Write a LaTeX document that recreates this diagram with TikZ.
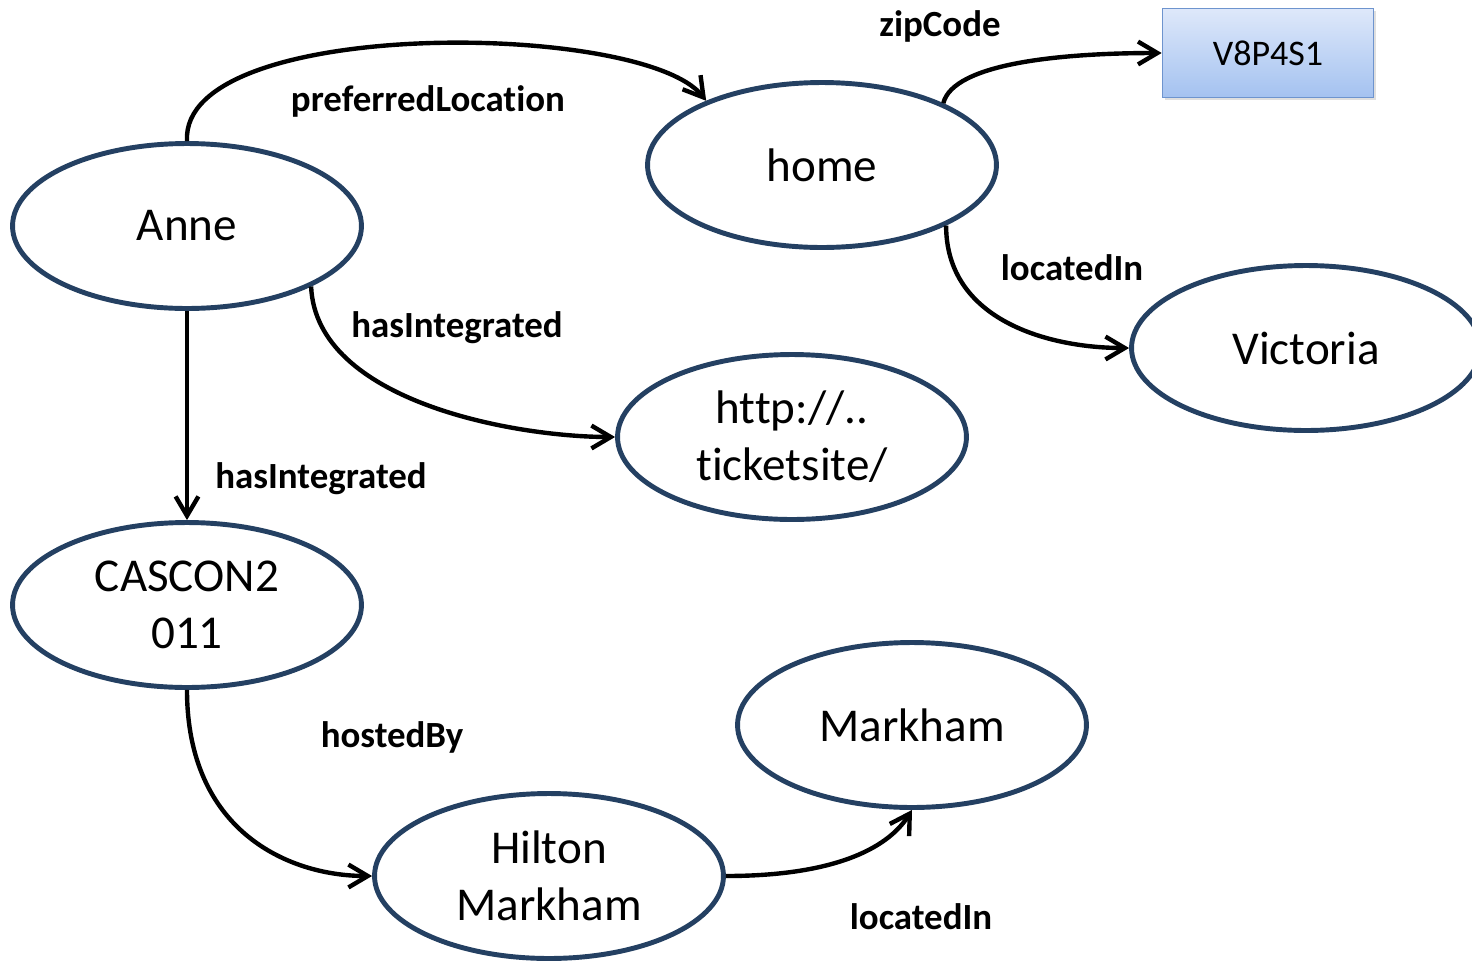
\documentclass[tikz,border=0pt]{standalone}
\usepackage{fontspec}
\setmainfont[Ligatures=NoCommon]{Carlito}
\usetikzlibrary{shapes.geometric,arrows.meta,shadows}
\definecolor{ringblue}{RGB}{36,64,98}
\definecolor{boxedge}{RGB}{110,148,206}
\definecolor{boxtop}{RGB}{222,232,250}
\definecolor{boxbot}{RGB}{164,194,240}
\begin{document}
\begin{tikzpicture}[x=0.02cm,y=-0.02cm,
    thing/.style={ellipse,draw=ringblue,line width=2.8pt,fill=white,
      minimum width=6.98cm,minimum height=3.3cm,inner sep=0pt,align=center,
      font=\fontsize{26.8}{32.3}\selectfont},
    rel/.style={font=\bfseries\fontsize{21}{24}\selectfont},
    link/.style={line width=2.5pt,-{Straight Barb[length=11pt,width=13pt]}}]
    \clip (0,0) rectangle (1472,961);

    % resources
    \node[thing] (anne)     at (187,226) {Anne};
    \node[thing] (home)     at (822,165) {home};
    \node[thing] (victoria) at (1306,348) {Victoria};
    \node[thing] (ticket)   at (792,437) {http://..\\ticketsite/};
    \node[thing] (cascon)   at (187,605) {CASCON2\\011};
    \node[thing] (hilton)   at (549,876) {Hilton\\Markham};
    \node[thing] (markham)  at (912,725) {Markham};
    \node[draw=boxedge,line width=1pt,top color=boxtop,bottom color=boxbot,
          drop shadow={opacity=0.25,shadow xshift=1.5pt,shadow yshift=-1.5pt},
          minimum width=4.22cm,minimum height=1.78cm,
          font=\fontsize{20.5}{24}\selectfont] (zip) at (1268,53) {V8P4S1};

    % properties
    \draw[link] (anne.north) .. controls +(-7,-125) and +(-63,-80) .. (home.151);
    \draw[link] (home.27) .. controls +(10,-40) and +(-100,0) .. (zip.west);
    \draw[link] (home.-26) .. controls +(0,95) and +(-80,0) .. (victoria.west);
    \draw[link] (anne.-26) .. controls +(5,115) and +(-100,0) .. (ticket.west);
    \draw[link] (anne.south) -- (cascon.north);
    \draw[link] (cascon.south) .. controls +(0,140) and +(-85,0) .. (hilton.west);
    \draw[link] (hilton.east) .. controls +(105,0) and +(-25,40) .. (markham.south);

    \node[rel] at (940,26)  {zipCode};
    \node[rel] at (428,101) {preferredLocation};
    \node[rel] at (1072,268) {locatedIn};
    \node[rel] at (457,328) {hasIntegrated};
    \node[rel] at (321,479) {hasIntegrated};
    \node[rel] at (392,737) {hostedBy};
    \node[rel] at (921,917) {locatedIn};
\end{tikzpicture}
\end{document}
